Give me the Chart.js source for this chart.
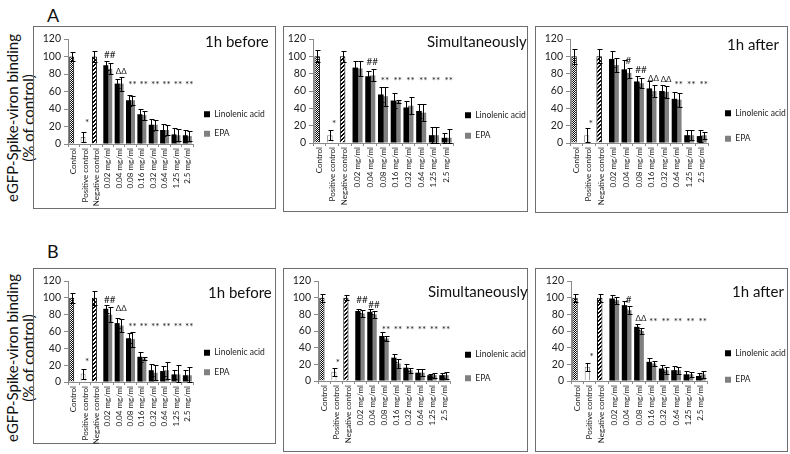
<!DOCTYPE html>
<html>
<head>
<meta charset="utf-8">
<script src="https://cdn.jsdelivr.net/npm/chart.js@4.4.1/dist/chart.umd.min.js"></script>
<style>
  body { margin: 0; background: #fff; width: 790px; height: 454px; position: relative; overflow: hidden; font-family: Lato, sans-serif; }
  .panel { position: absolute; border: 1px solid #6e6e6e; box-sizing: border-box; }
  .panel canvas { position: absolute; left: -1px; top: -1px; }
  .letter { position: absolute; font-size: 18px; line-height: 22px; color: #111; }
  .ytitle { position: absolute; width: 220px; height: 32px; text-align: center; font-size: 15px; line-height: 16px; color: #111; transform: rotate(-90deg); white-space: nowrap; }
</style>
</head>
<body>
<div class="letter" style="left:47px; top:4px;">A</div>
<div class="letter" style="left:47px; top:240px;">B</div>
<div class="ytitle" style="left:-90.5px; top:102px;">eGFP-Spike-viron binding<br>(% of control)</div>
<div class="ytitle" style="left:-90.5px; top:342px;">eGFP-Spike-viron binding<br>(% of control)</div>
<script>
const categories = ['Control', 'Positive control', 'Negative control', '0.02 mg/ml', '0.04 mg/ml',
  '0.08 mg/ml', '0.16 mg/ml', '0.32 mg/ml', '0.64 mg/ml', '1.25 mg/ml', '2.5 mg/ml'];
const yTicks = [0, 20, 40, 60, 80, 100, 120];
const titles = ['1h before', 'Simultaneously', '1h after'];
const seriesNames = ['Linolenic acid', 'EPA'];

// A - 1h before
const a1Ctrl = [100, 8, 100];
const a1CtrlErr = [5, 6, 6];
const a1Lin = [90, 69, 50, 34, 22, 16, 11, 10];
const a1LinErr = [5, 5, 6, 6, 7, 7, 7, 6];
const a1Epa = [86, 69, 50, 33, 22, 16, 10, 9];
const a1EpaErr = [6, 8, 5, 5, 6, 6, 7, 6];
const a1Marks = ['', '*', '', '##', 'ΔΔ', '**', '**', '**', '**', '**', '**'];
const a1MarkY = [0, 24, 0, 102, 83, 68, 68, 68, 68, 68, 68];

// A - simultaneously
const a2Ctrl = [100, 9, 100];
const a2CtrlErr = [7, 6, 6];
const a2Lin = [87, 77, 56, 49, 41, 37, 9, 6];
const a2LinErr = [8, 6, 9, 9, 8, 8, 9, 6];
const a2Epa = [86, 78, 54, 48, 43, 35, 9, 6];
const a2EpaErr = [9, 7, 11, 2, 10, 10, 9, 10];
const a2Marks = ['', '*', '', '', '##', '**', '**', '**', '**', '**', '**'];
const a2MarkY = [0, 22, 0, 0, 94, 72, 72, 72, 72, 72, 72];

// A - 1h after
const a3Ctrl = [100, 9, 100];
const a3CtrlErr = [9, 8, 8];
const a3Lin = [97, 85, 71, 63, 60, 51, 9, 8];
const a3LinErr = [9, 11, 6, 8, 7, 8, 6, 7];
const a3Epa = [90, 81, 69, 60, 59, 50, 9, 9];
const a3EpaErr = [8, 6, 6, 7, 7, 8, 6, 4];
const a3Marks = ['', '*', '', '', '#', '##', 'ΔΔ', 'ΔΔ', '**', '**', '**'];
const a3MarkY = [0, 22, 0, 0, 95, 84, 75, 73, 67, 67, 67];

// B - 1h before
const b1Ctrl = [100, 10, 100];
const b1CtrlErr = [6, 6, 8];
const b1Lin = [87, 70, 52, 30, 14, 13, 9, 8];
const b1LinErr = [5, 6, 6, 6, 7, 6, 5, 6];
const b1Epa = [80, 67, 51, 28, 11, 14, 9, 8];
const b1EpaErr = [9, 8, 9, 2, 9, 10, 11, 10];
const b1Marks = ['', '*', '', '##', 'ΔΔ', '**', '**', '**', '**', '**', '**'];
const b1MarkY = [0, 24, 0, 98, 88, 66, 66, 66, 66, 66, 66];

// B - simultaneously
const b2Ctrl = [100, 11, 100];
const b2CtrlErr = [5, 5, 3];
const b2Lin = [84, 83, 54, 28, 16, 10, 7, 7];
const b2LinErr = [3, 3, 5, 5, 4, 4, 2, 3];
const b2Epa = [81, 80, 51, 21, 13, 10, 7, 7];
const b2EpaErr = [4, 4, 3, 5, 3, 4, 3, 4];
const b2Marks = ['', '*', '', '##', '##', '**', '**', '**', '**', '**', '**'];
const b2MarkY = [0, 22, 0, 97, 92, 62, 62, 62, 62, 62, 62];

// B - 1h after
const b3Ctrl = [100, 17, 100];
const b3CtrlErr = [5, 5, 5];
const b3Lin = [99, 91, 65, 23, 15, 13, 8, 6];
const b3LinErr = [4, 5, 4, 5, 4, 5, 4, 4];
const b3Epa = [97, 85, 60, 21, 13, 13, 8, 8];
const b3EpaErr = [4, 5, 4, 3, 4, 4, 3, 4];
const b3Marks = ['', '*', '', '', '#', 'ΔΔ', '**', '**', '**', '**', '**'];
const b3MarkY = [0, 29, 0, 0, 97, 75, 71, 71, 71, 71, 71];

// panel boxes and plot areas, page pixels
const layoutA1 = { x: 33, y: 26, w: 243, h: 183, l: 68, t: 39, b: 144, r: 193, lg: 204, tx: 205, ty: 42 };
const layoutA2 = { x: 283, y: 26, w: 245, h: 186, l: 313, t: 39, b: 143, r: 453, lg: 465, tx: 427, ty: 42 };
const layoutA3 = { x: 535, y: 26, w: 253, h: 187, l: 570, t: 39, b: 143, r: 708, lg: 725, tx: 727, ty: 45 };
const layoutB1 = { x: 33, y: 268, w: 243, h: 176, l: 68, t: 281, b: 382, r: 193, lg: 204, tx: 208, ty: 293 };
const layoutB2 = { x: 283, y: 268, w: 245, h: 184, l: 318, t: 281, b: 381, r: 450, lg: 465, tx: 428, ty: 292 };
const layoutB3 = { x: 535, y: 268, w: 253, h: 184, l: 571, t: 281, b: 381, r: 707, lg: 725, tx: 732, ty: 292 };

Chart.defaults.font.family = 'Lato, sans-serif';
Chart.defaults.color = '#222';

function makePattern(size, draw) {
  const c = document.createElement('canvas');
  c.width = c.height = size;
  const x = c.getContext('2d');
  draw(x);
  return x.createPattern(c, 'repeat');
}
const dotPattern = makePattern(2, x => {
  x.fillStyle = '#fff'; x.fillRect(0, 0, 2, 2);
  x.fillStyle = '#000'; x.fillRect(0, 0, 1, 1); x.fillRect(1, 1, 1, 1);
});
const stripePattern = makePattern(4, x => {
  x.fillStyle = '#fff'; x.fillRect(0, 0, 4, 4);
  x.fillStyle = '#000';
  for (let i = 0; i < 4; i++) for (let k = 0; k < 2; k++) x.fillRect((3 - i + k) % 4, i, 1, 1);
});

// legend box gets a fixed width so the plot ends where it should
const fixLegend = {
  id: 'fixLegend',
  beforeLayout(chart, args, opts) {
    const lg = chart.legend;
    if (lg && !lg._fixed) {
      const fit = lg.fit;
      lg.fit = function () { fit.call(this); this.width = opts.width; };
      lg._fixed = true;
    }
  }
};

const errorBars = {
  id: 'errorBars',
  afterDatasetsDraw(chart) {
    const { ctx, scales: { y } } = chart;
    ctx.save();
    ctx.strokeStyle = '#000';
    ctx.lineWidth = 1;
    chart.data.datasets.forEach((ds, di) => {
      chart.getDatasetMeta(di).data.forEach((bar, i) => {
        const v = ds.data[i], e = ds.errors[i];
        if (v == null || e == null) return;
        const x = Math.round(bar.x) + 0.5;
        const top = Math.round(y.getPixelForValue(v + e)) + 0.5;
        const bot = Math.round(y.getPixelForValue(Math.max(v - e, 0))) + 0.5;
        ctx.beginPath();
        ctx.moveTo(x, top); ctx.lineTo(x, bot);
        ctx.moveTo(x - 2, top); ctx.lineTo(x + 3, top);
        ctx.moveTo(x - 2, bot); ctx.lineTo(x + 3, bot);
        ctx.stroke();
      });
    });
    ctx.restore();
  }
};

const marksPlugin = {
  id: 'marks',
  afterDatasetsDraw(chart, args, opts) {
    const { ctx, scales: { x, y } } = chart;
    ctx.save();
    ctx.fillStyle = '#222';
    ctx.textAlign = 'center';
    ctx.textBaseline = 'middle';
    opts.text.forEach((t, i) => {
      if (!t) return;
      // deltas are wide in Lato, keep them a little smaller
      ctx.font = (t.includes('Δ') ? '8px' : '10px') + ' Lato, sans-serif';
      ctx.fillText(t, x.getPixelForValue(i) + 2, y.getPixelForValue(opts.at[i]));
    });
    ctx.restore();
  }
};

const cornerTitle = {
  id: 'cornerTitle',
  afterDraw(chart, args, opts) {
    const ctx = chart.ctx;
    ctx.save();
    ctx.font = '15px Lato, sans-serif';
    ctx.fillStyle = '#111';
    ctx.textBaseline = 'middle';
    ctx.fillText(opts.text, opts.x, opts.y);
    ctx.restore();
  }
};

function drawPanel(g, title, ctrl, ctrlErr, lin, linErr, epa, epaErr, marks, markY) {
  const div = document.createElement('div');
  div.className = 'panel';
  div.style.left = g.x + 'px'; div.style.top = g.y + 'px';
  div.style.width = g.w + 'px'; div.style.height = g.h + 'px';
  const cv = document.createElement('canvas');
  cv.width = g.w; cv.height = g.h;
  div.appendChild(cv);
  document.body.appendChild(div);

  const none3 = [null, null, null];
  const none8 = [null, null, null, null, null, null, null, null];

  new Chart(cv, {
    type: 'bar',
    data: {
      labels: categories,
      datasets: [
        { label: 'Controls', data: ctrl.concat(none8), errors: ctrlErr.concat(none8),
          backgroundColor: [dotPattern, '#fff', stripePattern], borderColor: ['#000', '#888', '#000'],
          borderWidth: 1, stack: 'left' },
        { label: seriesNames[0], data: none3.concat(lin), errors: none3.concat(linErr),
          backgroundColor: '#000', stack: 'left' },
        { label: seriesNames[1], data: none3.concat(epa), errors: none3.concat(epaErr),
          backgroundColor: '#808080', stack: 'right' }
      ]
    },
    options: {
      responsive: false,
      animation: false,
      devicePixelRatio: 1,
      events: [],
      categoryPercentage: 0.7,
      barPercentage: 1.25,
      layout: { padding: { top: g.t - g.y, left: 0, right: 0, bottom: 0 } },
      scales: {
        x: {
          grid: { drawOnChartArea: false, tickLength: 3, color: '#8a8a8a', offset: true },
          border: { color: '#8a8a8a' },
          ticks: { autoSkip: false, minRotation: 90, maxRotation: 90, padding: 1, font: { size: 8 }, color: '#222' },
          afterFit: s => { s.height = g.y + g.h - g.b; }
        },
        y: {
          min: 0, max: 120, stacked: false,
          grid: { drawOnChartArea: false, tickLength: 4, color: '#8a8a8a' },
          border: { color: '#8a8a8a' },
          ticks: { padding: 3, font: { size: 10.5 }, color: '#222' },
          afterBuildTicks: s => { s.ticks = yTicks.map(v => ({ value: v })); },
          afterFit: s => { s.width = g.l - g.x; }
        }
      },
      plugins: {
        legend: {
          position: 'right',
          labels: {
            boxWidth: 6, boxHeight: 6, padding: g.lg - g.r,
            font: { size: 8.5 }, color: '#222',
            filter: item => item.datasetIndex > 0
          }
        },
        tooltip: { enabled: false },
        fixLegend: { width: g.x + g.w - g.r },
        marks: { text: marks, at: markY },
        cornerTitle: { text: title, x: g.tx - g.x, y: g.ty - g.y }
      }
    },
    plugins: [fixLegend, errorBars, marksPlugin, cornerTitle]
  });
}

drawPanel(layoutA1, titles[0], a1Ctrl, a1CtrlErr, a1Lin, a1LinErr, a1Epa, a1EpaErr, a1Marks, a1MarkY);
drawPanel(layoutA2, titles[1], a2Ctrl, a2CtrlErr, a2Lin, a2LinErr, a2Epa, a2EpaErr, a2Marks, a2MarkY);
drawPanel(layoutA3, titles[2], a3Ctrl, a3CtrlErr, a3Lin, a3LinErr, a3Epa, a3EpaErr, a3Marks, a3MarkY);
drawPanel(layoutB1, titles[0], b1Ctrl, b1CtrlErr, b1Lin, b1LinErr, b1Epa, b1EpaErr, b1Marks, b1MarkY);
drawPanel(layoutB2, titles[1], b2Ctrl, b2CtrlErr, b2Lin, b2LinErr, b2Epa, b2EpaErr, b2Marks, b2MarkY);
drawPanel(layoutB3, titles[2], b3Ctrl, b3CtrlErr, b3Lin, b3LinErr, b3Epa, b3EpaErr, b3Marks, b3MarkY);
</script>
</body>
</html>
